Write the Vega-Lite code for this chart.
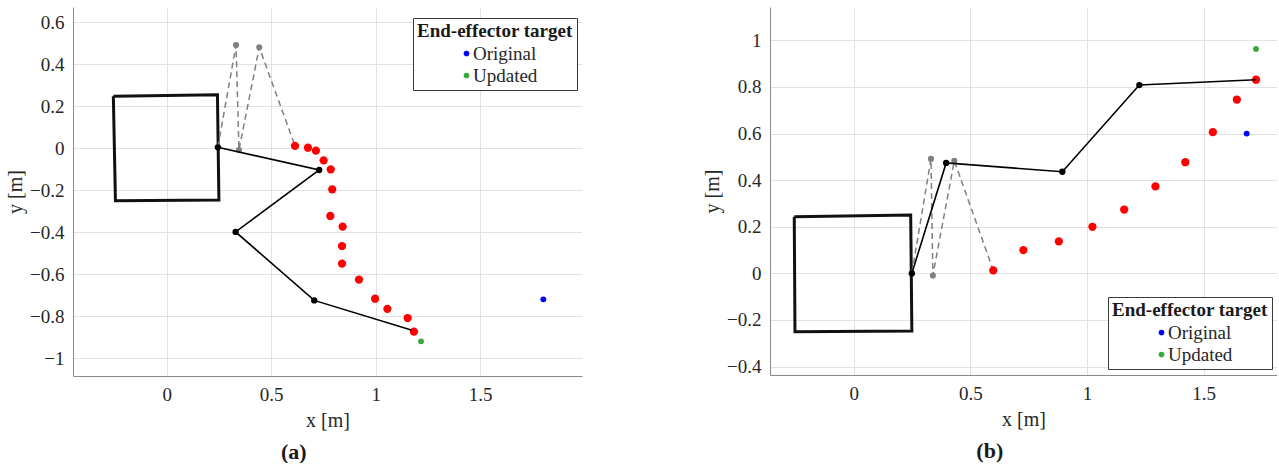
{
  "$schema": "https://vega.github.io/schema/vega-lite/v6.json",
  "padding": {"left": 5, "top": 7, "right": 0, "bottom": 0},
  "background": "white",
  "config": {
    "view": {"stroke": null},
    "font": "Liberation Serif",
    "axis": {"labelFont": "Liberation Serif", "labelFontSize": 19, "labelColor": "#262626", "titleFont": "Liberation Serif", "titleFontSize": 20, "titleFontWeight": "normal", "titleColor": "#262626", "gridColor": "#e2e2e2", "domainColor": "#8a8a8a", "ticks": false, "labelPadding": 9},
    "axisX": {"titlePadding": 6},
    "legend": {"strokeColor": "#3a3a3a", "fillColor": "white", "padding": 4, "titleFont": "Liberation Serif", "titleFontSize": 19, "titleFontWeight": "bold", "titleColor": "#1a1a1a", "labelFont": "Liberation Serif", "labelFontSize": 19, "labelColor": "#262626", "symbolType": "circle", "symbolSize": 32, "symbolStrokeWidth": 0, "rowPadding": 2, "titlePadding": 3, "symbolOffset": 40, "labelOffset": -3},
    "title": {"font": "Liberation Serif", "fontSize": 22, "fontWeight": "bold", "color": "#1a1a1a", "orient": "bottom", "anchor": "middle", "frame": "bounds", "offset": 12}
  },
  "datasets": {
    "a": [
      {"kind": "box", "order": 0, "x": -0.255, "y": 0.248},
      {"kind": "box", "order": 1, "x": 0.243, "y": 0.255},
      {"kind": "box", "order": 2, "x": 0.25, "y": -0.246},
      {"kind": "box", "order": 3, "x": -0.245, "y": -0.25},
      {"kind": "box", "order": 4, "x": -0.255, "y": 0.248},
      {"kind": "arm", "order": 0, "x": 0.245, "y": 0.005},
      {"kind": "arm", "order": 1, "x": 0.73, "y": -0.103},
      {"kind": "arm", "order": 2, "x": 0.33, "y": -0.398},
      {"kind": "arm", "order": 3, "x": 0.706, "y": -0.724},
      {"kind": "arm", "order": 4, "x": 1.17, "y": -0.865},
      {"kind": "ghost", "order": 0, "x": 0.245, "y": 0.005},
      {"kind": "ghost", "order": 1, "x": 0.332, "y": 0.492},
      {"kind": "ghost", "order": 2, "x": 0.346, "y": -0.008},
      {"kind": "ghost", "order": 3, "x": 0.443, "y": 0.481},
      {"kind": "ghost", "order": 4, "x": 0.614, "y": 0.012},
      {"kind": "traj", "order": 0, "x": 0.614, "y": 0.012},
      {"kind": "traj", "order": 1, "x": 0.676, "y": 0.003},
      {"kind": "traj", "order": 2, "x": 0.714, "y": -0.011},
      {"kind": "traj", "order": 3, "x": 0.751, "y": -0.057},
      {"kind": "traj", "order": 4, "x": 0.785, "y": -0.1},
      {"kind": "traj", "order": 5, "x": 0.792, "y": -0.195},
      {"kind": "traj", "order": 6, "x": 0.783, "y": -0.322},
      {"kind": "traj", "order": 7, "x": 0.842, "y": -0.373},
      {"kind": "traj", "order": 8, "x": 0.839, "y": -0.465},
      {"kind": "traj", "order": 9, "x": 0.839, "y": -0.549},
      {"kind": "traj", "order": 10, "x": 0.92, "y": -0.625},
      {"kind": "traj", "order": 11, "x": 0.997, "y": -0.716},
      {"kind": "traj", "order": 12, "x": 1.056, "y": -0.764},
      {"kind": "traj", "order": 13, "x": 1.153, "y": -0.808},
      {"kind": "traj", "order": 14, "x": 1.183, "y": -0.873},
      {"kind": "target", "order": 0, "target": "Original", "x": 1.802, "y": -0.719},
      {"kind": "target", "order": 1, "target": "Updated", "x": 1.217, "y": -0.919}
    ],
    "b": [
      {"kind": "box", "order": 0, "x": -0.255, "y": 0.243},
      {"kind": "box", "order": 1, "x": 0.244, "y": 0.25},
      {"kind": "box", "order": 2, "x": 0.249, "y": -0.247},
      {"kind": "box", "order": 3, "x": -0.252, "y": -0.25},
      {"kind": "box", "order": 4, "x": -0.255, "y": 0.243},
      {"kind": "arm", "order": 0, "x": 0.249, "y": 0.0},
      {"kind": "arm", "order": 1, "x": 0.396, "y": 0.474},
      {"kind": "arm", "order": 2, "x": 0.894, "y": 0.436},
      {"kind": "arm", "order": 3, "x": 1.224, "y": 0.808},
      {"kind": "arm", "order": 4, "x": 1.724, "y": 0.831},
      {"kind": "ghost", "order": 0, "x": 0.249, "y": 0.0},
      {"kind": "ghost", "order": 1, "x": 0.331, "y": 0.491},
      {"kind": "ghost", "order": 2, "x": 0.339, "y": -0.009},
      {"kind": "ghost", "order": 3, "x": 0.431, "y": 0.483},
      {"kind": "ghost", "order": 4, "x": 0.598, "y": 0.013},
      {"kind": "traj", "order": 0, "x": 0.598, "y": 0.013},
      {"kind": "traj", "order": 1, "x": 0.727, "y": 0.1},
      {"kind": "traj", "order": 2, "x": 0.879, "y": 0.137},
      {"kind": "traj", "order": 3, "x": 1.023, "y": 0.2},
      {"kind": "traj", "order": 4, "x": 1.159, "y": 0.274},
      {"kind": "traj", "order": 5, "x": 1.293, "y": 0.373},
      {"kind": "traj", "order": 6, "x": 1.421, "y": 0.477},
      {"kind": "traj", "order": 7, "x": 1.539, "y": 0.606},
      {"kind": "traj", "order": 8, "x": 1.642, "y": 0.746},
      {"kind": "traj", "order": 9, "x": 1.724, "y": 0.831},
      {"kind": "target", "order": 0, "target": "Original", "x": 1.684, "y": 0.6},
      {"kind": "target", "order": 1, "target": "Updated", "x": 1.724, "y": 0.963}
    ]
  },
  "spacing": 188,
  "bounds": "flush",
  "resolve": {"scale": {"color": "independent"}, "legend": {"color": "independent"}},
  "hconcat": [
    {
      "width": 509,
      "height": 369,
      "data": {"name": "a"},
      "title": {"text": "(a)"},
      "encoding": {
        "x": {"field": "x", "type": "quantitative", "scale": {"domain": [-0.448, 1.987], "nice": false, "zero": false}, "axis": {"title": "x [m]", "values": [0, 0.5, 1, 1.5], "format": "~g", "labelFont": "Liberation Serif", "labelFontSize": 19}},
        "y": {"field": "y", "type": "quantitative", "scale": {"domain": [-1.084, 0.673], "nice": false, "zero": false}, "axis": {"title": "y [m]", "values": [-1, -0.8, -0.6, -0.4, -0.2, 0, 0.2, 0.4, 0.6], "format": "~g", "labelFont": "Liberation Serif", "labelFontSize": 19}}
      },
      "layer": [
        {"transform": [{"filter": "datum.kind === 'box'"}], "mark": {"type": "line", "color": "#111111", "strokeWidth": 3, "strokeJoin": "miter"}, "encoding": {"order": {"field": "order", "type": "quantitative"}}},
        {"transform": [{"filter": "datum.kind === 'ghost'"}], "mark": {"type": "line", "color": "#808080", "strokeWidth": 1.5, "strokeDash": [6, 4]}, "encoding": {"order": {"field": "order", "type": "quantitative"}}},
        {"transform": [{"filter": "datum.kind === 'ghost' && datum.order > 0 && datum.order < 4"}], "mark": {"type": "point", "filled": true, "color": "#808080", "opacity": 1, "size": 38}},
        {"transform": [{"filter": "datum.kind === 'traj'"}], "mark": {"type": "point", "filled": true, "color": "#ff0000", "opacity": 1, "size": 68}},
        {"transform": [{"filter": "datum.kind === 'arm'"}], "mark": {"type": "line", "color": "#000000", "strokeWidth": 1.6}, "encoding": {"order": {"field": "order", "type": "quantitative"}}},
        {"transform": [{"filter": "datum.kind === 'arm' && datum.order < 4"}], "mark": {"type": "point", "filled": true, "color": "#000000", "opacity": 1, "size": 40}},
        {"transform": [{"filter": "datum.kind === 'target'"}], "mark": {"type": "point", "filled": true, "opacity": 1, "size": 34}, "encoding": {"color": {"field": "target", "type": "nominal", "scale": {"domain": ["Original", "Updated"], "range": ["#0000ff", "#3aa83a"]}, "legend": {"title": "End-effector target", "orient": "none", "legendX": 340, "legendY": 11}}}}
      ]
    },
    {
      "width": 507,
      "height": 368,
      "data": {"name": "b"},
      "title": {"text": "(b)"},
      "encoding": {
        "x": {"field": "x", "type": "quantitative", "scale": {"domain": [-0.359, 1.814], "nice": false, "zero": false}, "axis": {"title": "x [m]", "values": [0, 0.5, 1, 1.5], "format": "~g", "labelFont": "Liberation Serif", "labelFontSize": 19}},
        "y": {"field": "y", "type": "quantitative", "scale": {"domain": [-0.436, 1.143], "nice": false, "zero": false}, "axis": {"title": "y [m]", "values": [-0.4, -0.2, 0, 0.2, 0.4, 0.6, 0.8, 1], "format": "~g", "labelFont": "Liberation Serif", "labelFontSize": 19}}
      },
      "layer": [
        {"transform": [{"filter": "datum.kind === 'box'"}], "mark": {"type": "line", "color": "#111111", "strokeWidth": 3, "strokeJoin": "miter"}, "encoding": {"order": {"field": "order", "type": "quantitative"}}},
        {"transform": [{"filter": "datum.kind === 'ghost'"}], "mark": {"type": "line", "color": "#808080", "strokeWidth": 1.5, "strokeDash": [6, 4]}, "encoding": {"order": {"field": "order", "type": "quantitative"}}},
        {"transform": [{"filter": "datum.kind === 'ghost' && datum.order > 0 && datum.order < 4"}], "mark": {"type": "point", "filled": true, "color": "#808080", "opacity": 1, "size": 38}},
        {"transform": [{"filter": "datum.kind === 'traj'"}], "mark": {"type": "point", "filled": true, "color": "#ff0000", "opacity": 1, "size": 68}},
        {"transform": [{"filter": "datum.kind === 'arm'"}], "mark": {"type": "line", "color": "#000000", "strokeWidth": 1.6}, "encoding": {"order": {"field": "order", "type": "quantitative"}}},
        {"transform": [{"filter": "datum.kind === 'arm' && datum.order < 4"}], "mark": {"type": "point", "filled": true, "color": "#000000", "opacity": 1, "size": 40}},
        {"transform": [{"filter": "datum.kind === 'target'"}], "mark": {"type": "point", "filled": true, "opacity": 1, "size": 34}, "encoding": {"color": {"field": "target", "type": "nominal", "scale": {"domain": ["Original", "Updated"], "range": ["#0000ff", "#3aa83a"]}, "legend": {"title": "End-effector target", "orient": "none", "legendX": 338, "legendY": 290}}}}
      ]
    }
  ]
}
